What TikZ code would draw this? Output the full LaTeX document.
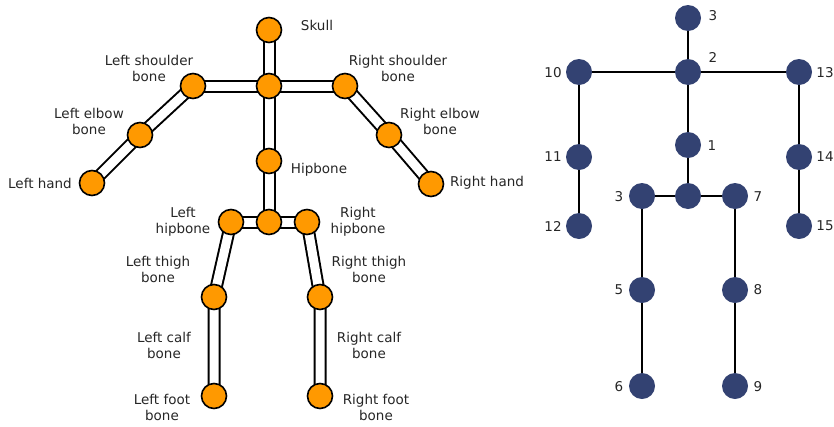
\documentclass[tikz,border=0pt]{standalone}
\usepackage{fontspec}
\setmainfont{DejaVu Sans}
\usetikzlibrary{backgrounds}

\definecolor{jointorange}{HTML}{FF9900}
\definecolor{jointnavy}{HTML}{334272}

\tikzset{
    joint/.style={circle, draw=black, line width=1.6pt, fill=jointorange, minimum size=25pt, inner sep=0pt},
    bone/.style={line width=2pt, double=white, double distance=9pt},
    kpoint/.style={circle, fill=jointnavy, minimum size=26pt, inner sep=0pt},
    link/.style={line width=1.8pt},
    lbl/.style={text=black!85, align=center, inner sep=0pt, font=\fontsize{13.5}{16}\selectfont},
}

\begin{document}
\begin{tikzpicture}[x=1pt, y=-1pt]
            \useasboundingbox (0,0) rectangle (834,426);

            \node[joint] (skull) at (269,30) {};
            \node[joint] (neck) at (269,86) {};
            \node[joint] (lshoulder) at (193,86) {};
            \node[joint] (rshoulder) at (345,86) {};
            \node[joint] (lelbow) at (140,135) {};
            \node[joint] (relbow) at (389,135) {};
            \node[joint] (lhand) at (92,183) {};
            \node[joint] (rhand) at (431,184) {};
            \node[joint] (hip) at (269,161) {};
            \node[joint] (pelvis) at (269,222) {};
            \node[joint] (lhip) at (231,222) {};
            \node[joint] (rhip) at (307,222) {};
            \node[joint] (lknee) at (214,297) {};
            \node[joint] (rknee) at (320,297) {};
            \node[joint] (lfoot) at (214,396) {};
            \node[joint] (rfoot) at (320,396) {};

            \begin{scope}[on background layer]
                \draw[bone] (skull.center) -- (neck.center);
                \draw[bone] (lshoulder.center) -- (rshoulder.center);
                \draw[bone] (lshoulder.center) -- (lelbow.center) -- (lhand.center);
                \draw[bone] (rshoulder.center) -- (relbow.center) -- (rhand.center);
                \draw[bone] (neck.center) -- (hip.center);
                \draw[bone] (hip.center) -- (pelvis.center);
                \draw[bone] (lhip.center) -- (rhip.center);
                \draw[bone] (lhip.center) -- (lknee.center) -- (lfoot.center);
                \draw[bone] (rhip.center) -- (rknee.center) -- (rfoot.center);
            \end{scope}

            \node[lbl] (skull-lbl) at (317,25) {Skull};
            \node[lbl] (lshoulder-lbl) at (149,68) {Left shoulder\\bone};
            \node[lbl] (rshoulder-lbl) at (398,68) {Right shoulder\\bone};
            \node[lbl] (lelbow-lbl) at (89,121) {Left elbow\\bone};
            \node[lbl] (relbow-lbl) at (440,121) {Right elbow\\bone};
            \node[lbl] (lhand-lbl) at (40,183) {Left hand};
            \node[lbl] (rhand-lbl) at (487,183) {Right hand};
            \node[lbl] (hip-lbl) at (319,170) {Hipbone};
            \node[lbl] (lhip-lbl) at (183,222) {Left\\hipbone};
            \node[lbl] (rhip-lbl) at (358,222) {Right\\hipbone};
            \node[lbl] (lknee-lbl) at (158,269) {Left thigh\\bone};
            \node[lbl] (rknee-lbl) at (369,269) {Right thigh\\bone};
            \node[lbl] (lcalf-lbl) at (164,345) {Left calf\\bone};
            \node[lbl] (rcalf-lbl) at (369,345) {Right calf\\bone};
            \node[lbl] (lfoot-lbl) at (162,407) {Left foot\\bone};
            \node[lbl] (rfoot-lbl) at (376,407) {Right foot\\bone};

            \node[kpoint] (k3) at (688,18) {};
            \node[kpoint] (k2) at (688,72) {};
            \node[kpoint] (k10) at (579,72) {};
            \node[kpoint] (k13) at (799,72) {};
            \node[kpoint] (k1) at (688,145) {};
            \node[kpoint] (k11) at (579,157) {};
            \node[kpoint] (k14) at (799,157) {};
            \node[kpoint] (k0) at (688,196) {};
            \node[kpoint] (k4) at (642,196) {};
            \node[kpoint] (k7) at (735,196) {};
            \node[kpoint] (k12) at (579,226) {};
            \node[kpoint] (k15) at (799,226) {};
            \node[kpoint] (k5) at (642,290) {};
            \node[kpoint] (k8) at (735,290) {};
            \node[kpoint] (k6) at (642,386) {};
            \node[kpoint] (k9) at (735,386) {};

            \draw[link] (k3) -- (k2);
            \draw[link] (k10) -- (k2);
            \draw[link] (k2) -- (k13);
            \draw[link] (k2) -- (k1);
            \draw[link] (k1) -- (k0);
            \draw[link] (k10) -- (k11);
            \draw[link] (k11) -- (k12);
            \draw[link] (k13) -- (k14);
            \draw[link] (k14) -- (k15);
            \draw[link] (k4) -- (k0);
            \draw[link] (k0) -- (k7);
            \draw[link] (k4) -- (k5);
            \draw[link] (k5) -- (k6);
            \draw[link] (k7) -- (k8);
            \draw[link] (k8) -- (k9);

            \node[lbl] (k3-lbl) at (713,16) {3};
            \node[lbl] (k2-lbl) at (713,57) {2};
            \node[lbl] (k10-lbl) at (553,73) {10};
            \node[lbl] (k13-lbl) at (825,73) {13};
            \node[lbl] (k1-lbl) at (712,146) {1};
            \node[lbl] (k11-lbl) at (553,157) {11};
            \node[lbl] (k14-lbl) at (825,157) {14};
            \node[lbl] (k4-lbl) at (619,197) {3};
            \node[lbl] (k7-lbl) at (758,197) {7};
            \node[lbl] (k12-lbl) at (553,226) {12};
            \node[lbl] (k15-lbl) at (825,226) {15};
            \node[lbl] (k5-lbl) at (619,290) {5};
            \node[lbl] (k8-lbl) at (758,290) {8};
            \node[lbl] (k6-lbl) at (619,387) {6};
            \node[lbl] (k9-lbl) at (758,387) {9};
\end{tikzpicture}
\end{document}
